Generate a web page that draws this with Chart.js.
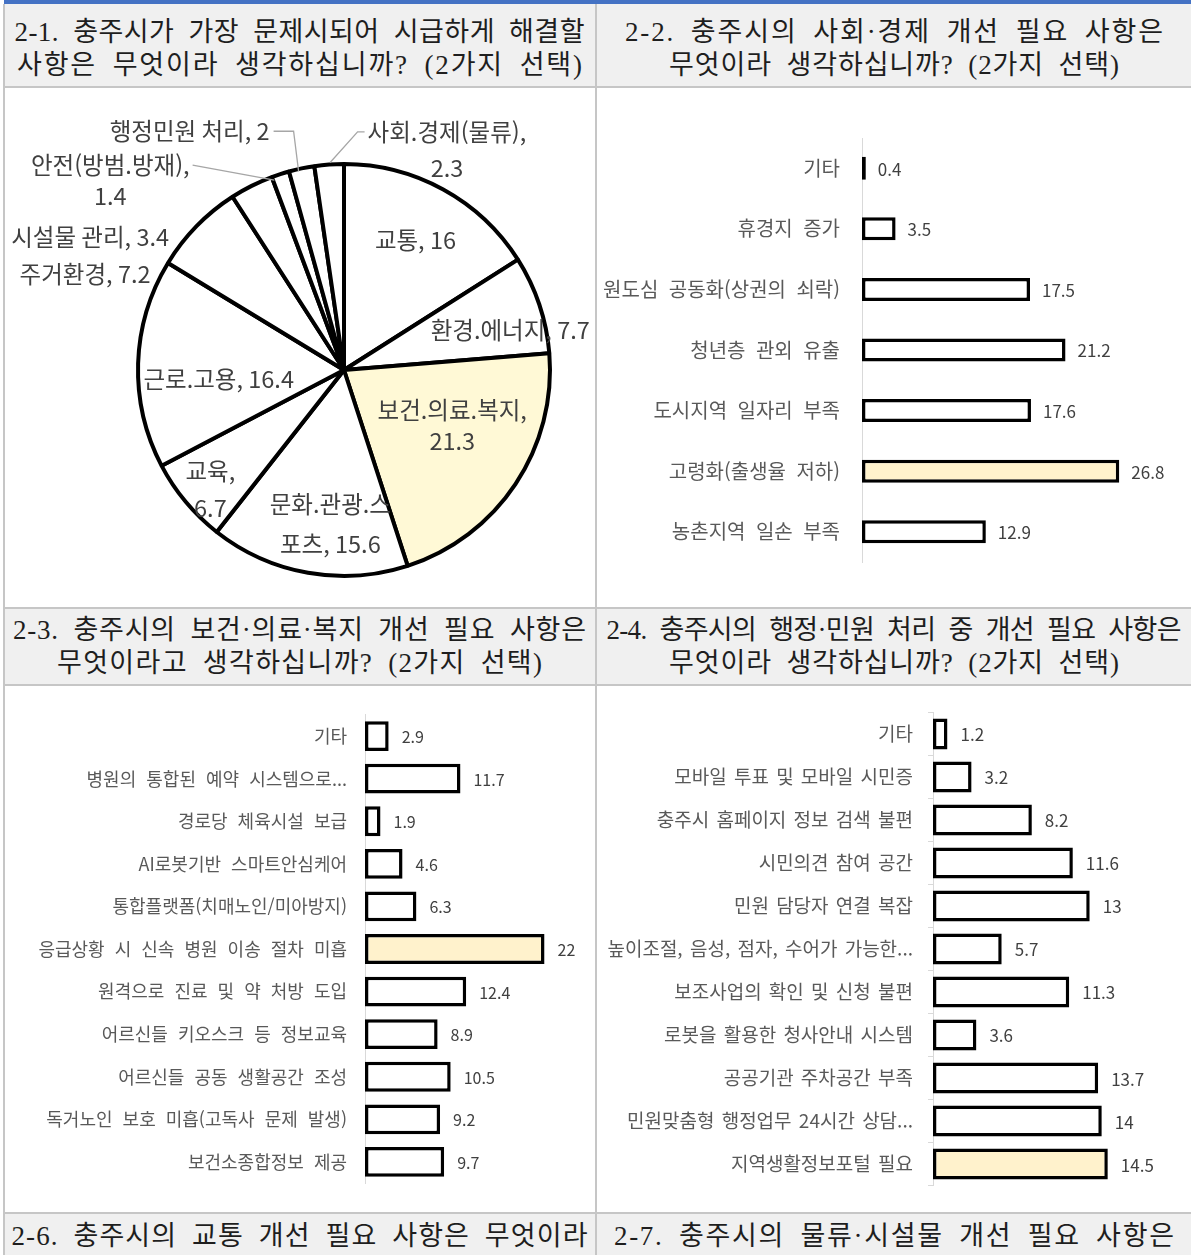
<!DOCTYPE html>
<html lang="ko">
<head>
<meta charset="utf-8">
<title>충주시 설문 결과</title>
<script src="https://cdn.jsdelivr.net/npm/chart.js@4.4.0/dist/chart.umd.min.js"></script>
<style>
  body {
    margin: 0;
    width: 1191px;
    height: 1255px;
    overflow: hidden;
    position: relative;
    background: #fff;
  }
  .rule-top { position: absolute; left: 4px; top: 0; width: 1187px; height: 4px; background: #4472c4; }
  .head {
    position: absolute;
    box-sizing: border-box;
    background: #f0f0f0;
    color: #1e1e1e;
    font-family: "Liberation Serif", "Noto Sans CJK KR", serif;
    font-size: 27px;
    line-height: 33px;
    word-spacing: 7px;
    overflow: hidden;
  }
  .ln { display: block; width: max-content; margin: 0 auto; white-space: nowrap; }
  .hline { position: absolute; left: 4px; width: 1187px; height: 2px; background: #c6c6c6; }
  .vline { position: absolute; top: 4px; width: 2px; height: 1251px; background: #c6c6c6; }
  .cell { position: absolute; }
</style>
</head>
<body>
<div class="rule-top"></div>

<div class="head" style="left:4px;top:4px;width:591px;height:83px;padding-top:12px;">
  <span class="ln" data-w="570">2-1. 충주시가 가장 문제시되어 시급하게 해결할</span>
  <span class="ln" data-w="565">사항은 무엇이라 생각하십니까? (2가지 선택)</span>
</div>
<div class="head" style="left:597px;top:4px;width:594px;height:83px;padding-top:12px;">
  <span class="ln" data-w="538">2-2. 충주시의 사회·경제 개선 필요 사항은</span>
  <span class="ln" data-w="450">무엇이라 생각하십니까? (2가지 선택)</span>
</div>
<div class="head" style="left:4px;top:609px;width:591px;height:75px;padding-top:5px;">
  <span class="ln" data-w="573">2-3. 충주시의 보건·의료·복지 개선 필요 사항은</span>
  <span class="ln" data-w="485">무엇이라고 생각하십니까? (2가지 선택)</span>
</div>
<div class="head" style="left:597px;top:609px;width:594px;height:75px;padding-top:5px;">
  <span class="ln" data-w="575">2-4. 충주시의 행정·민원 처리 중 개선 필요 사항은</span>
  <span class="ln" data-w="450">무엇이라 생각하십니까? (2가지 선택)</span>
</div>
<div class="head" style="left:4px;top:1214px;width:591px;height:41px;padding-top:6px;">
  <span class="ln" data-w="576">2-6. 충주시의 교통 개선 필요 사항은 무엇이라</span>
</div>
<div class="head" style="left:597px;top:1214px;width:594px;height:41px;padding-top:6px;">
  <span class="ln" data-w="560">2-7. 충주시의 물류·시설물 개선 필요 사항은</span>
</div>

<div class="hline" style="top:86px;"></div>
<div class="hline" style="top:607px;"></div>
<div class="hline" style="top:684px;"></div>
<div class="hline" style="top:1212px;"></div>
<div class="vline" style="left:3px;"></div>
<div class="vline" style="left:595px;"></div>

<div class="cell" style="left:0;top:88px;width:595px;height:519px;"><canvas id="issueChart"></canvas></div>
<div class="cell" style="left:597px;top:88px;width:594px;height:519px;"><canvas id="econChart"></canvas></div>
<div class="cell" style="left:4px;top:686px;width:591px;height:526px;"><canvas id="welfareChart"></canvas></div>
<div class="cell" style="left:597px;top:686px;width:594px;height:526px;"><canvas id="adminChart"></canvas></div>

<script>
// -------- DATA --------
const issueLabels = ["교통", "환경.에너지", "보건.의료.복지", "문화.관광.스포츠", "교육", "근로.고용",
  "주거환경", "시설물 관리", "안전(방범.방재)", "행정민원 처리", "사회.경제(물류)"];
const issueValues = [16, 7.7, 21.3, 15.6, 6.7, 16.4, 7.2, 3.4, 1.4, 2, 2.3];

const econLabels = ["기타", "휴경지 증가", "원도심 공동화(상권의 쇠락)", "청년층 관외 유출",
  "도시지역 일자리 부족", "고령화(출생율 저하)", "농촌지역 일손 부족"];
const econValues = [0.4, 3.5, 17.5, 21.2, 17.6, 26.8, 12.9];

const welfareLabels = ["기타", "병원의 통합된 예약 시스템으로...", "경로당 체육시설 보급", "AI로봇기반 스마트안심케어",
  "통합플랫폼(치매노인/미아방지)", "응급상황 시 신속 병원 이송 절차 미흡", "원격으로 진료 및 약 처방 도입",
  "어르신들 키오스크 등 정보교육", "어르신들 공동 생활공간 조성", "독거노인 보호 미흡(고독사 문제 발생)",
  "보건소종합정보 제공"];
const welfareValues = [2.9, 11.7, 1.9, 4.6, 6.3, 22, 12.4, 8.9, 10.5, 9.2, 9.7];

const adminLabels = ["기타", "모바일 투표 및 모바일 시민증", "충주시 홈페이지 정보 검색 불편", "시민의견 참여 공간",
  "민원 담당자 연결 복잡", "높이조절, 음성, 점자, 수어가 가능한...", "보조사업의 확인 및 신청 불편",
  "로봇을 활용한 청사안내 시스템", "공공기관 주차공간 부족", "민원맞춤형 행정업무 24시간 상담...",
  "지역생활정보포털 필요"];
const adminValues = [1.2, 3.2, 8.2, 11.6, 13, 5.7, 11.3, 3.6, 13.7, 14, 14.5];

// -------- STYLE --------
const FONT = "'Noto Sans CJK KR', 'Noto Sans', sans-serif";
const PIE_HIGHLIGHT = "#fff9d6";
const BAR_HIGHLIGHT = "#fff2cc";

Chart.defaults.font.family = FONT;
Chart.defaults.animation = false;

// stretch or squeeze each header line to its column width
function fitHeaderLines() {
  document.querySelectorAll(".ln").forEach((ln) => {
    ln.style.letterSpacing = "";
    ln.style.transform = "";
    const target = Number(ln.dataset.w);
    const n = [...ln.textContent].length;
    const natural = ln.getBoundingClientRect().width;
    const ls = (target - natural) / (n - 1);
    ln.style.letterSpacing = ls + "px";
    ln.style.transform = "translateX(" + (ls / 2) + "px)";
  });
}
fitHeaderLines();
if (document.fonts) document.fonts.ready.then(fitHeaderLines);

// where each pie label sits: radius factor, angle nudge in degrees,
// line break ("comma" or char index), line height, leader line style
const issueLabelSpots = [
  { f: 0.72, da: 0 },
  { f: 0.83, da: 5 },
  { f: 0.59, da: -6.6, br: "comma", lh: 31 },
  { f: 0.75, da: -5, br: 7, lh: 40 },
  { f: 0.87, da: -2, br: "comma", lh: 37 },
  { f: 0.61, da: -6 },
  { f: 1.34, da: -24 },
  { f: 1.39, da: -35.8 },
  { f: 1.46, da: -33, br: "comma", lh: 31, leader: "right" },
  { f: 1.38, da: -21, leader: "elbow" },
  { f: 1.18, da: 29.2, br: "comma", lh: 36, leader: "left" }
];

// -------- PLUGINS --------
const pieLabelPlugin = {
  id: "pieLabels",
  afterDatasetsDraw(chart, args, opts) {
    const ctx = chart.ctx;
    const arcs = chart.getDatasetMeta(0).data;
    const values = chart.data.datasets[0].data;
    ctx.save();
    ctx.font = opts.font;
    ctx.textAlign = "center";
    ctx.textBaseline = "middle";

    arcs.forEach((arc, i) => {
      const spot = issueLabelSpots[i];
      const text = chart.data.labels[i] + ", " + values[i];
      let lines = [text];
      if (spot.br === "comma") {
        lines = [chart.data.labels[i] + ",", String(values[i])];
      } else if (typeof spot.br === "number") {
        lines = [text.slice(0, spot.br), text.slice(spot.br)];
      }
      const mid = (arc.startAngle + arc.endAngle) / 2;
      const a = mid + spot.da * Math.PI / 180;
      const r = arc.outerRadius;
      const px = arc.x + Math.cos(a) * r * spot.f;
      const py = arc.y + Math.sin(a) * r * spot.f;
      const lh = spot.lh || 34;

      if (spot.leader) {
        const ex = arc.x + Math.cos(mid) * r;
        const ey = arc.y + Math.sin(mid) * r;
        const y0 = py - (lines.length - 1) / 2 * lh;
        const w0 = ctx.measureText(lines[0]).width;
        ctx.strokeStyle = "#a6a6a6";
        ctx.lineWidth = 1.3;
        ctx.beginPath();
        if (spot.leader === "right") {
          ctx.moveTo(px + w0 / 2 + 3, y0);
          ctx.lineTo(ex - 6, ey + 6);
        } else if (spot.leader === "elbow") {
          ctx.moveTo(px + w0 / 2 + 4, y0);
          ctx.lineTo(ex - 8, y0);
          ctx.lineTo(ex - 3, ey + 3);
        } else {
          ctx.moveTo(px - w0 / 2 - 3, y0);
          ctx.lineTo(px - w0 / 2 - 10, y0);
          ctx.lineTo(ex + 1, ey - 2);
        }
        ctx.stroke();
      }

      ctx.fillStyle = opts.color;
      lines.forEach((ln, k) => {
        ctx.fillText(ln, px, py + (k - (lines.length - 1) / 2) * lh);
      });
    });
    ctx.restore();
  }
};

// wider gaps between words in the category labels
const wordGapPlugin = {
  id: "wordGap",
  beforeDraw(chart, args, opts) {
    chart.ctx.wordSpacing = opts.gap + "px";
  },
  afterDraw(chart) {
    chart.ctx.wordSpacing = "0px";
  }
};

const valueLabelPlugin = {
  id: "valueLabels",
  afterDatasetsDraw(chart, args, opts) {
    const ctx = chart.ctx;
    const bars = chart.getDatasetMeta(0).data;
    const values = chart.data.datasets[0].data;
    ctx.save();
    ctx.wordSpacing = "0px";
    ctx.font = opts.font;
    ctx.fillStyle = opts.color;
    ctx.textAlign = "left";
    ctx.textBaseline = "middle";
    bars.forEach((bar, i) => {
      ctx.fillText(String(values[i]), bar.x + opts.gap, bar.y + 1);
    });
    ctx.restore();
  }
};

// -------- PIE --------
new Chart(document.getElementById("issueChart"), {
  type: "pie",
  data: {
    labels: issueLabels,
    datasets: [{
      data: issueValues,
      backgroundColor: issueValues.map(v => v === Math.max(...issueValues) ? PIE_HIGHLIGHT : "#ffffff"),
      borderColor: "#000000",
      borderWidth: 4
    }]
  },
  options: {
    responsive: true,
    maintainAspectRatio: false,
    radius: 206,
    layout: { padding: { left: 94, right: 1, top: 62, bottom: 17 } },
    plugins: {
      legend: { display: false },
      tooltip: { enabled: false },
      pieLabels: { font: "23.5px " + FONT, color: "#404040" }
    }
  },
  plugins: [pieLabelPlugin]
});

// -------- HORIZONTAL BARS --------
function makeBarChart(id, labels, values, o) {
  const top = Math.max(...values);
  return new Chart(document.getElementById(id), {
    type: "bar",
    data: {
      labels,
      datasets: [{
        data: values,
        backgroundColor: values.map(v => v === top ? BAR_HIGHLIGHT : "#ffffff"),
        borderColor: "#000000",
        borderWidth: o.border,
        borderSkipped: false,
        categoryPercentage: 1,
        barPercentage: o.barPct
      }]
    },
    options: {
      indexAxis: "y",
      responsive: true,
      maintainAspectRatio: false,
      layout: { padding: o.padding },
      plugins: {
        legend: { display: false },
        tooltip: { enabled: false },
        wordGap: { gap: o.wordGap },
        valueLabels: { font: o.valueFont + "px " + FONT, color: "#404040", gap: o.gap }
      },
      scales: {
        x: { display: false, min: 0, max: o.max },
        y: {
          afterFit: (scale) => { scale.width = o.axisX; },
          grid: o.tickMarks
            ? { drawOnChartArea: false, drawTicks: true, tickLength: 5, color: "#d9d9d9" }
            : { display: false, drawTicks: false },
          border: { display: true, color: "#d9d9d9", width: 1 },
          ticks: {
            autoSkip: false,
            padding: o.tickPad,
            color: "#595959",
            font: { size: o.tickFont }
          }
        }
      }
    },
    plugins: [wordGapPlugin, valueLabelPlugin]
  });
}

makeBarChart("econChart", econLabels, econValues, {
  axisX: 265, max: 30, barPct: 0.38, border: 3.5,
  padding: { top: 50, bottom: 45, right: 41, left: 0 },
  tickPad: 22, tickFont: 20, wordGap: 6, valueFont: 17, gap: 12, tickMarks: false
});

makeBarChart("welfareChart", welfareLabels, welfareValues, {
  axisX: 361, max: 25, barPct: 0.7, border: 3.5,
  padding: { top: 23, bottom: 14, right: 26, left: 0 },
  tickPad: 18, tickFont: 18, wordGap: 6, valueFont: 16, gap: 13, tickMarks: false
});

makeBarChart("adminChart", adminLabels, adminValues, {
  axisX: 336, max: 18, barPct: 0.72, border: 3.5,
  padding: { top: 22, bottom: 16, right: 41, left: 0 },
  tickPad: 15, tickFont: 19, wordGap: 3, valueFont: 17, gap: 13, tickMarks: true
});
</script>
</body>
</html>
